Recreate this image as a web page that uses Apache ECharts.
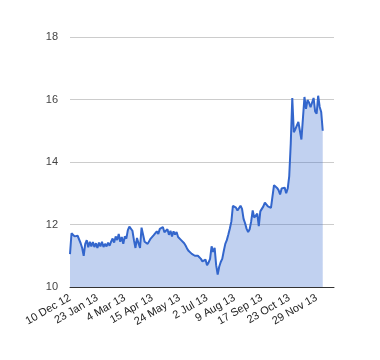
<!DOCTYPE html>
<html><head><meta charset="utf-8">
<script src="https://cdn.jsdelivr.net/npm/echarts@6/dist/echarts.min.js"></script>
<style>html,body{margin:0;padding:0;background:#fff}#c{width:380px;height:360px}</style>
</head><body><div id="c"></div>
<script>
const tickLabels = ['10 Dec 12','23 Jan 13','4 Mar 13','15 Apr 13','24 May 13','2 Jul 13','9 Aug 13','17 Sep 13','23 Oct 13','29 Nov 13'];
const pointsPerLabel = 18;
const values = [
11.05,11.72,11.78,11.62,11.58,11.64,11.52,11.4,11.25,11.0,
11.38,11.5,11.27,11.45,11.3,11.44,11.28,11.4,11.25,11.42,
11.3,11.45,11.28,11.38,11.3,11.42,11.32,11.45,11.55,11.42,
11.62,11.5,11.7,11.45,11.6,11.38,11.62,11.55,11.82,11.93,
11.98,11.8,11.5,11.25,11.57,11.4,11.25,11.9,11.94,11.45,
11.48,11.38,11.35,11.55,11.5,11.66,11.7,11.78,11.7,11.86,
11.8,11.92,11.75,11.72,11.85,11.67,11.8,11.62,11.78,11.68,
11.76,11.6,11.55,11.5,11.45,11.4,11.32,11.22,11.15,11.14,
11.06,11.03,11.0,10.98,11.0,10.95,10.9,10.82,10.85,10.88,
10.7,10.78,10.9,11.3,11.12,11.25,10.7,10.4,10.65,10.8,
10.9,11.15,11.38,11.5,11.68,11.87,12.1,12.6,12.58,12.54,
12.45,12.4,12.6,12.5,12.18,12.04,11.86,11.76,11.85,12.1,
12.45,12.22,12.2,12.35,11.95,12.42,12.48,12.58,12.7,12.66,
12.58,12.54,12.53,12.9,13.26,13.24,13.17,13.1,12.96,13.15,
13.2,13.18,13.0,13.15,13.55,14.6,16.05,14.95,15.05,15.0,
15.28,15.22,14.72,15.4,16.08,15.7,15.98,15.9,15.75,15.72,
16.05,15.62,15.55,16.12,15.76,15.6,15.0
];
const chart = echarts.init(document.getElementById('c'), null, {renderer: 'canvas'});
chart.setOption({
  animation: false,
  textStyle: {fontFamily: 'Liberation Sans, Arial, sans-serif'},
  grid: {left: 70, right: 46, top: 37, bottom: 73},
  xAxis: {
    type: 'value', min: 0, max: 173.4, interval: pointsPerLabel,
    axisLine: {show: true, onZero: false, lineStyle: {color: '#333', width: 1}},
    axisTick: {show: false},
    splitLine: {show: false},
    axisLabel: {
      rotate: 30, fontSize: 11, color: '#222', margin: 10,
      showMaxLabel: false,
      formatter: function (v) {
        const k = v / pointsPerLabel;
        return (Number.isInteger(k) && tickLabels[k]) ? tickLabels[k] : '';
      }
    }
  },
  yAxis: {
    type: 'value', min: 10, max: 18, interval: 2,
    axisLine: {show: false}, axisTick: {show: false},
    splitLine: {lineStyle: {color: '#cccccc'}},
    axisLabel: {fontSize: 11, color: '#444', margin: 12}
  },
  series: [{
    type: 'line',
    data: values.map(function (v, i) { return [i, v]; }),
    showSymbol: false,
    lineStyle: {color: '#3366cc', width: 2},
    itemStyle: {color: '#3366cc'},
    areaStyle: {color: '#3366cc', opacity: 0.3}
  }]
});
</script></body></html>
